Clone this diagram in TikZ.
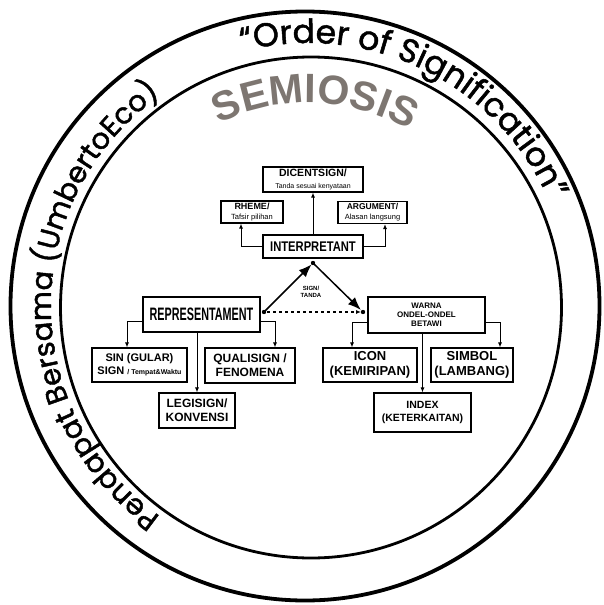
\documentclass[tikz,border=0pt]{standalone}
\usepackage{fontspec}
\setmainfont{Liberation Sans}
\newfontfamily\condfont{Liberation Sans}[FakeStretch=0.8]
\newfontfamily\narrowfont{Liberation Sans}[FakeStretch=0.6]
\newfontfamily\ringfont{Poppins}[FakeBold=1.5]
\usetikzlibrary{arrows.meta, decorations.text}
\definecolor{semgray}{RGB}{125,118,113}
\newcommand\fsz[1]{\fontsize{#1}{\fpeval{1.15*#1}}\selectfont}

\begin{document}
\begin{tikzpicture}[x=1pt, y=-1pt, thick,
    box/.style={draw, fill=white, line width=1.1pt, align=center, inner sep=0pt},
    conn/.style={line width=1pt, -{Latex[length=5pt,width=4pt]}},
    bigarr/.style={line width=1.5pt, -{Latex[length=13pt,width=10pt]}}]
        \useasboundingbox (0,0) rectangle (603,605);

        % Rings:
        \draw[line width=3.8pt] (305,306) circle (294.5);
        \draw[line width=2.8pt] (311,307.5) circle (250.5);

        % Ring texts:
        \path[decorate, decoration={text along path, text align=center,
            text={|\ringfont\fsz{33}|“Order of Signification”}}]
            (308,306) ++(-150:263) arc[start angle=-150, end angle=22, radius=263];
        \path[decorate, decoration={text along path, text align=center,
            text={|\ringfont\fsz{29}|Pendapat Bersama (UmbertoEco)}}]
            (308,306) ++(-270:257) arc[start angle=-270, end angle=-90, radius=257];
        \path[decorate, decoration={text along path, text align=center, text color=semgray,
            text={|\bfseries\fsz{41}|SEMIOSIS}}]
            (308,306) ++(-150:203) arc[start angle=-150, end angle=-26, radius=203];

        % Interpretant side:
        \node[box, minimum width=100pt, minimum height=25pt, font=\bfseries\fsz{10.5}] (dicent) at (313,179.5)
            {DICENTSIGN/\\{\mdseries\fsz{7}Tanda sesuai kenyataan}};
        \node[box, minimum width=62pt, minimum height=22pt, font=\bfseries\fsz{9}] (rheme) at (252,212)
            {RHEME/\\{\mdseries\fsz{7.5}Tafsir pilihan}};
        \node[box, minimum width=69pt, minimum height=22pt, font=\bfseries\fsz{8.5}] (argument) at (372.5,212.5)
            {ARGUMENT/\\{\mdseries\fsz{7.5}Alasan langsung}};
        \node[box, minimum width=100pt, minimum height=23pt, font=\condfont\bfseries\fsz{14}] (interp) at (313,246.5)
            {INTERPRETANT};
        \draw[conn] (interp.north) -- (dicent.south);
        \draw[conn] (interp.west) -| ([xshift=-11pt]rheme.south);
        \draw[conn] (interp.east) -| ([xshift=12.5pt]argument.south);

        % Representament side:
        \node[box, minimum width=117pt, minimum height=35pt, font=\narrowfont\bfseries\fsz{18}] (repr) at (201.5,314.5)
            {REPRESENTAMENT};
        \node[box, minimum width=95pt, minimum height=34pt, font=\bfseries\fsz{11}] (sin) at (139.5,365)
            {SIN (GULAR)\\SIGN {\fsz{7}/ Tempat\&Waktu}};
        \node[box, minimum width=90pt, minimum height=35pt, font=\bfseries\fsz{12}] (quali) at (250,365.5)
            {QUALISIGN /\\FENOMENA};
        \node[box, minimum width=76pt, minimum height=35pt, font=\bfseries\fsz{12}] (legi) at (197,410.5)
            {LEGISIGN/\\KONVENSI};
        \draw[conn] ([yshift=-7pt]repr.west) -| ([xshift=-12.5pt]sin.north);
        \draw[conn] ([yshift=-7pt]repr.east) -| ([xshift=25pt]quali.north);
        \draw[conn] (repr.south -| legi.north) -- (legi.north);

        % Object side:
        \node[box, minimum width=117pt, minimum height=36pt, font=\bfseries\fsz{8}] (warna) at (426.5,315)
            {WARNA\\ONDEL-ONDEL\\BETAWI};
        \node[box, minimum width=94pt, minimum height=34pt, font=\bfseries\fsz{13}] (icon) at (370,365)
            {ICON\\(KEMIRIPAN)};
        \node[box, minimum width=82pt, minimum height=34pt, font=\bfseries\fsz{13}] (simbol) at (472,365)
            {SIMBOL\\(LAMBANG)};
        \node[box, minimum width=97pt, minimum height=39pt, font=\bfseries\fsz{10.5}] (index) at (422.5,412.5)
            {INDEX\\(KETERKAITAN)};
        \draw[conn] ([yshift=-7pt]warna.west) -| ([xshift=-18pt]icon.north);
        \draw[conn] ([yshift=-7pt]warna.east) -| ([xshift=28pt]simbol.north);
        \draw[conn] (warna.south -| index.north) -- (index.north);

        % Sign triangle:
        \coordinate (top) at (313,263);
        \coordinate (rdot) at (264,312);
        \coordinate (wdot) at (363,312);
        \fill (top) circle (2.2) (rdot) circle (2.2) (wdot) circle (2.2);
        \draw[bigarr, shorten >=2pt] (rdot) -- (top);
        \draw[bigarr, shorten >=3pt] (top) -- (wdot);
        \draw[conn, dashed, line width=1.5pt, shorten <=3pt, shorten >=2pt] (rdot) -- (wdot);
        \node[font=\bfseries\fsz{6}, align=center] (sign) at (311,292) {SIGN/\\TANDA};
\end{tikzpicture}
\end{document}
